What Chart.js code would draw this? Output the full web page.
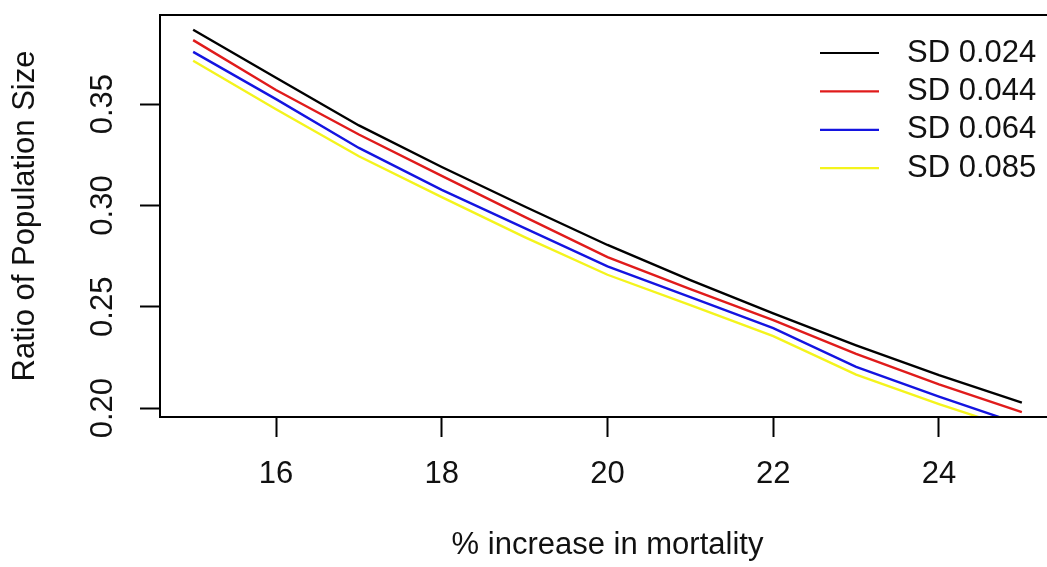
<!DOCTYPE html>
<html>
<head>
<meta charset="utf-8">
<script src="https://cdn.jsdelivr.net/npm/chart.js@4/dist/chart.umd.min.js"></script>
<style>
  html, body { margin: 0; padding: 0; background: #fff; overflow: hidden; }
  #wrap { width: 1080px; height: 567px; }
</style>
</head>
<body>
<div id="wrap"><canvas id="c" width="1080" height="567"></canvas></div>
<script>
// ── DATA ──────────────────────────────────────────────────────────────────────
const xValues = [15, 16, 17, 18, 19, 20, 21, 22, 23, 24, 25];
const sd024 = [0.3867, 0.3630, 0.3395, 0.3190, 0.2995, 0.2805, 0.2632, 0.2467, 0.2310, 0.2163, 0.2027];
const sd044 = [0.3816, 0.3570, 0.3350, 0.3146, 0.2944, 0.2745, 0.2587, 0.2434, 0.2267, 0.2117, 0.1980];
const sd064 = [0.3758, 0.3525, 0.3284, 0.3077, 0.2888, 0.2699, 0.2548, 0.2395, 0.2203, 0.2056, 0.1918];
const sd085 = [0.3714, 0.3475, 0.3243, 0.3041, 0.2844, 0.2658, 0.2508, 0.2355, 0.2165, 0.2020, 0.1885];
const seriesLabels = ['SD 0.024', 'SD 0.044', 'SD 0.064', 'SD 0.085'];
const xTicks = [16, 18, 20, 22, 24];
const yTicks = [0.20, 0.25, 0.30, 0.35];

// ── STYLE ─────────────────────────────────────────────────────────────────────
const COLORS = ['#000000', '#e01b1b', '#1414e0', '#f4f41c'];
const FONT = { family: '"Liberation Sans", Arial, sans-serif', size: 31 };
const INK = '#111';

const toPts = ys => ys.map((y, i) => ({ x: xValues[i], y }));
const datasets = [sd024, sd044, sd064, sd085].map((ys, i) => ({
  label: seriesLabels[i],
  data: toPts(ys),
  borderColor: COLORS[i],
  borderWidth: 2.4,
  pointRadius: 0,
  tension: 0,
  fill: false,
  clip: 0
}));

// box round the plot region + R style legend (no frame)
const boxAndLegend = {
  id: 'boxAndLegend',
  afterDraw(chart) {
    const { ctx, chartArea: a } = chart;
    ctx.save();
    ctx.strokeStyle = '#000';
    ctx.lineWidth = 2;
    ctx.strokeRect(a.left, a.top, a.right - a.left, a.bottom - a.top);

    ctx.font = `${FONT.size}px ${FONT.family}`;
    ctx.textBaseline = 'middle';
    ctx.fillStyle = INK;
    ctx.lineWidth = 2.2;
    chart.data.datasets.forEach((d, i) => {
      const y = 53 + i * 38.4;
      ctx.strokeStyle = d.borderColor;
      ctx.beginPath();
      ctx.moveTo(820, y);
      ctx.lineTo(879, y);
      ctx.stroke();
      ctx.fillText(d.label, 907, y);
    });
    ctx.restore();
  }
};

const noPad = s => { s.paddingTop = s.paddingBottom = s.paddingLeft = s.paddingRight = 0; };

new Chart(document.getElementById('c'), {
  type: 'line',
  data: { datasets },
  options: {
    responsive: false,
    animation: false,
    devicePixelRatio: 1,
    layout: { padding: { top: 15, right: 25, left: 0, bottom: 0 } },
    plugins: { legend: { display: false }, tooltip: { enabled: false } },
    scales: {
      x: {
        type: 'linear',
        min: 14.6,
        max: 25.4,
        afterBuildTicks: s => { s.ticks = xTicks.map(v => ({ value: v })); },
        afterFit: s => { s.height = 150; noPad(s); },
        grid: { drawOnChartArea: false, drawTicks: true, tickLength: 20, tickWidth: 2, tickColor: '#000' },
        border: { display: false },
        ticks: { font: FONT, color: INK, padding: 19, maxRotation: 0, callback: v => String(v) },
        title: { display: true, text: '% increase in mortality', font: FONT, color: INK, padding: { top: 0, bottom: 3 } }
      },
      y: {
        type: 'linear',
        min: 0.1956,
        max: 0.394,
        afterBuildTicks: s => { s.ticks = yTicks.map(v => ({ value: v })); },
        afterFit: s => { s.width = 160; noPad(s); },
        grid: { drawOnChartArea: false, drawTicks: true, tickLength: 20, tickWidth: 2, tickColor: '#000' },
        border: { display: false },
        ticks: { font: FONT, color: INK, padding: 6, minRotation: 90, maxRotation: 90, crossAlign: 'center', callback: v => v.toFixed(2) },
        title: { display: true, text: 'Ratio of Population Size', font: FONT, color: INK, padding: { top: 7, bottom: 0 } }
      }
    }
  },
  plugins: [boxAndLegend]
});
</script>
</body>
</html>
